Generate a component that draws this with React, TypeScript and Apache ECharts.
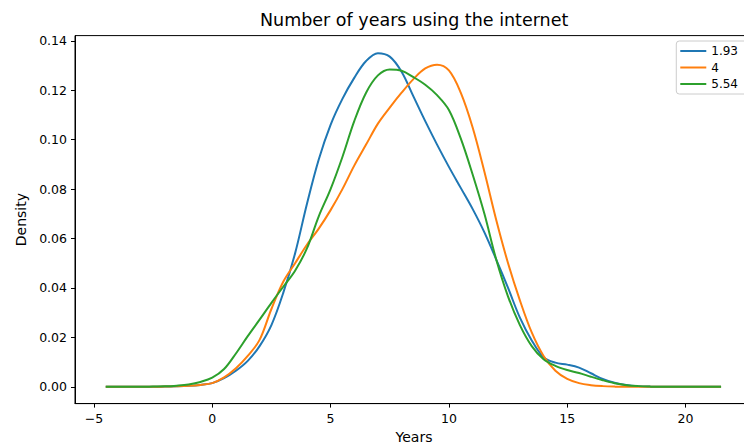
import React, { useEffect, useRef } from "react";
import * as echarts from "echarts";

const years = [
  -4.5, -4, -3.5, -3, -2.5, -2, -1.5, -1, -0.5, 0, 0.5, 1, 1.5, 2, 2.5, 3, 3.5, 4, 4.5, 5, 5.5, 6, 6.5, 7,
  7.5, 8, 8.5, 9, 9.5, 10, 10.5, 11, 11.5, 12, 12.5, 13, 13.5, 14, 14.5, 15, 15.5, 16, 16.5, 17, 17.5, 18,
  18.5, 19, 19.5, 20, 20.5, 21, 21.5,
];

const seriesNames = ["1.93", "4", "5.54"];

const density193 = [
  0, 0, 0, 0, 0, 0.0001, 0.0002, 0.0004, 0.0008, 0.0015, 0.0035, 0.0065, 0.0105, 0.0165, 0.025, 0.038,
  0.054, 0.074, 0.092, 0.106, 0.1165, 0.125, 0.1318, 0.135, 0.1336, 0.1275, 0.1175, 0.1075, 0.098, 0.089,
  0.0805, 0.072, 0.0625, 0.0515, 0.04, 0.028, 0.0188, 0.012, 0.0098, 0.009, 0.0078, 0.0055, 0.0032, 0.0017,
  0.0008, 0.0003, 0.0001, 0, 0, 0, 0, 0, 0,
];

const density4 = [
  0, 0, 0, 0, 0, 0.0001, 0.0002, 0.0004, 0.0008, 0.0015, 0.0038, 0.0075, 0.0125, 0.019, 0.0315, 0.0425, 0.05,
  0.0575, 0.064, 0.0715, 0.08, 0.0895, 0.098, 0.1065, 0.113, 0.119, 0.1245, 0.1288, 0.1303, 0.128, 0.119,
  0.105, 0.087, 0.0675, 0.05, 0.035, 0.022, 0.0125, 0.0065, 0.0032, 0.0015, 0.0007, 0.0003, 0.0001, 0, 0, 0,
  0, 0, 0, 0, 0, 0,
];

const density554 = [
  0, 0, 0, 0, 0.0001, 0.0002, 0.0005, 0.001, 0.002, 0.0037, 0.0072, 0.0135, 0.0205, 0.0272, 0.034, 0.0405,
  0.047, 0.056, 0.069, 0.08, 0.093, 0.1075, 0.119, 0.126, 0.1284, 0.1279, 0.1253, 0.1222, 0.118, 0.112,
  0.1005, 0.086, 0.07, 0.0515, 0.0365, 0.025, 0.0165, 0.0112, 0.0085, 0.0068, 0.0056, 0.0041, 0.0027, 0.0015,
  0.0007, 0.0003, 0.0001, 0, 0, 0, 0, 0, 0,
];

const xTicks = [-5, 0, 5, 10, 15, 20];
const yTicks = [0, 0.02, 0.04, 0.06, 0.08, 0.1, 0.12, 0.14];

const colors = ["#1f77b4", "#ff7f0e", "#2ca02c"];
const FONT = "DejaVu Sans";

export default function App() {
  const ref = useRef<HTMLDivElement>(null);

  useEffect(() => {
    if (!ref.current) return;
    const chart = echarts.init(ref.current, null, { renderer: "svg" });
    const allSeries = [density193, density4, density554];
    chart.setOption({
      animation: false,
      backgroundColor: "#fff",
      textStyle: { fontFamily: FONT, color: "#000" },
      title: {
        text: "Number of years using the internet",
        left: 255,
        top: 6,
        textStyle: { fontFamily: FONT, fontSize: 17.5, fontWeight: "normal", color: "#000" },
      },
      legend: {
        orient: "vertical",
        right: -8,
        top: 41,
        padding: [3, 14, 3, 4],
        icon: "rect",
        itemWidth: 26,
        itemHeight: 2,
        itemGap: 2.5,
        backgroundColor: "#fff",
        borderColor: "#cccccc",
        borderWidth: 1,
        borderRadius: 3,
        textStyle: { fontFamily: FONT, fontSize: 12, lineHeight: 14, color: "#000" },
        data: seriesNames,
      },
      grid: {
        left: 75,
        top: 35.6,
        width: 678,
        height: 368,
        outerBoundsMode: "none",
        containLabel: false,
        show: true,
        borderColor: "#000",
        borderWidth: 1,
        backgroundColor: "transparent",
      },
      xAxis: {
        type: "value",
        min: -5.8,
        max: 22.85,
        name: "Years",
        nameLocation: "middle",
        nameGap: 26,
        nameTextStyle: { fontFamily: FONT, fontSize: 14, color: "#000" },
        axisLine: { show: true, onZero: false, lineStyle: { color: "#000", width: 1 } },
        axisTick: { show: true, length: 4, customValues: xTicks, lineStyle: { color: "#000" } },
        axisLabel: {
          customValues: xTicks,
          margin: 8,
          fontFamily: FONT,
          fontSize: 12.5,
          color: "#000",
          formatter: (v: number) => (v < 0 ? "\u2212" + Math.abs(v) : String(v)),
        },
        splitLine: { show: false },
      },
      yAxis: {
        type: "value",
        min: -0.00677,
        max: 0.1421,
        name: "Density",
        nameLocation: "middle",
        nameGap: 41,
        nameTextStyle: { fontFamily: FONT, fontSize: 14, color: "#000" },
        axisLine: { show: true, onZero: false, lineStyle: { color: "#000", width: 1 } },
        axisTick: { show: true, length: 4, customValues: yTicks, lineStyle: { color: "#000" } },
        axisLabel: {
          customValues: yTicks,
          margin: 8,
          fontFamily: FONT,
          fontSize: 12.5,
          color: "#000",
          formatter: (v: number) => v.toFixed(2),
        },
        splitLine: { show: false },
      },
      series: seriesNames.map((name, i) => ({
        name,
        type: "line",
        data: years.map((x, j) => [x, allSeries[i][j]]),
        symbol: "none",
        smooth: 0.35,
        lineStyle: { color: colors[i], width: 2 },
        itemStyle: { color: colors[i] },
      })),
    });
    return () => chart.dispose();
  }, []);

  return (
    <div
      ref={ref}
      style={{ position: "absolute", left: 0, top: 0, width: 744, height: 446 }}
    />
  );
}
